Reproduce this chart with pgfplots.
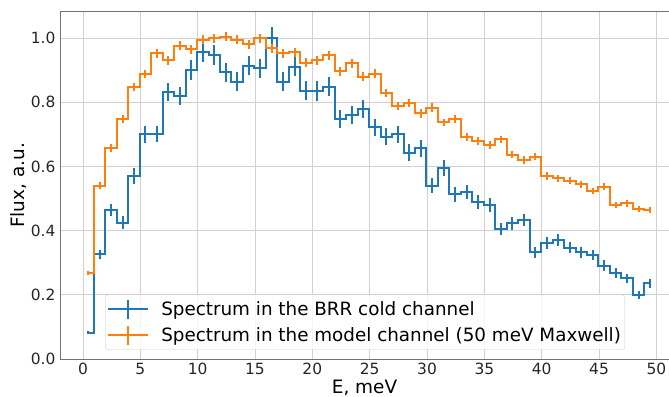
\documentclass[border=0pt]{standalone}
\usepackage{pgfplots}
\pgfplotsset{compat=1.18}
\usepackage{pgfplotstable}
\usepackage{fontspec}
\setmainfont{DejaVu Sans}
\definecolor{mblue}{HTML}{1F77B4}
\definecolor{morange}{HTML}{FF7F0E}
\pgfplotstableread{
x b be o oe
0.45 0.082 0.004 0.267 0.006
1.45 0.326 0.015 0.540 0.010
2.45 0.464 0.020 0.658 0.012
3.45 0.425 0.020 0.748 0.012
4.45 0.570 0.024 0.848 0.013
5.45 0.700 0.026 0.888 0.013
6.45 0.701 0.026 0.952 0.014
7.45 0.833 0.028 0.931 0.014
8.45 0.819 0.028 0.976 0.014
9.45 0.900 0.030 0.965 0.014
10.45 0.955 0.030 0.994 0.014
11.45 0.947 0.030 0.999 0.014
12.45 0.893 0.030 1.004 0.014
13.45 0.864 0.030 0.994 0.014
14.45 0.914 0.030 0.981 0.014
15.45 0.906 0.030 0.999 0.014
16.45 0.999 0.035 0.968 0.014
17.45 0.864 0.030 0.952 0.014
18.45 0.911 0.030 0.955 0.014
19.45 0.836 0.030 0.923 0.014
20.45 0.835 0.030 0.931 0.014
21.45 0.848 0.030 0.947 0.014
22.45 0.747 0.028 0.897 0.014
23.45 0.760 0.028 0.921 0.014
24.45 0.778 0.028 0.879 0.014
25.45 0.722 0.027 0.888 0.014
26.45 0.693 0.027 0.828 0.013
27.45 0.700 0.027 0.788 0.013
28.45 0.643 0.026 0.797 0.013
29.45 0.656 0.026 0.765 0.013
30.45 0.540 0.024 0.783 0.013
31.45 0.596 0.025 0.737 0.012
32.45 0.513 0.023 0.748 0.012
33.45 0.520 0.023 0.691 0.012
34.45 0.488 0.022 0.680 0.012
35.45 0.480 0.022 0.667 0.012
36.45 0.405 0.020 0.684 0.012
37.45 0.423 0.020 0.636 0.011
38.45 0.433 0.020 0.620 0.011
39.45 0.332 0.018 0.630 0.011
40.45 0.362 0.018 0.570 0.011
41.45 0.371 0.018 0.563 0.011
42.45 0.347 0.018 0.555 0.011
43.45 0.332 0.018 0.544 0.010
44.45 0.324 0.017 0.523 0.010
45.45 0.291 0.016 0.537 0.010
46.45 0.267 0.015 0.480 0.010
47.45 0.251 0.015 0.485 0.010
48.45 0.199 0.013 0.467 0.010
49.45 0.236 0.014 0.464 0.010
}\data
\begin{document}
\begin{tikzpicture}
\begin{axis}[
  scale only axis,
  width=609bp, height=347bp,
  xmin=-2, xmax=51.1,
  ymin=0, ymax=1.081,
  xtick={0,5,...,50},
  ytick={0,0.2,0.4,0.6,0.8,1.0},
  /pgf/number format/assume math mode=true,
  yticklabel style={/pgf/number format/fixed, /pgf/number format/fixed zerofill, /pgf/number format/precision=1},
  tick label style={font=\fontsize{15.5}{18}\selectfont, text=black!85},
  major tick length=0pt,
  xticklabel style={yshift=-1bp},
  yticklabel style={xshift=-1bp},
  grid=major,
  major grid style={draw=black!18, line width=0.8bp},
  axis line style={draw=none},
  xlabel={E, meV},
  ylabel={Flux, a.u.},
  label style={font=\fontsize{18.5}{21}\selectfont},
  xlabel style={yshift=2bp},
  ylabel style={yshift=-3bp},
  every axis plot/.append style={line width=2bp},
  legend cell align=left,
  legend style={at={(0.074,0.026)}, anchor=south west,
    font=\fontsize{18.4}{22}\selectfont,
    draw=black!20, rounded corners=3bp, fill=white, fill opacity=0.8, text opacity=1,
    row sep=5bp, inner xsep=2bp, inner ysep=4bp},
  legend image code/.code={
    \draw[#1] (0bp,0bp) -- (40bp,0bp);
    \draw[#1] (20bp,-9.5bp) -- (20bp,9.5bp);
    \path (50bp,0bp);
  },
]
\addplot[color=mblue, const plot mark mid,
  error bars/y dir=both, error bars/y explicit, error bars/error mark=none,
  error bars/error bar style={line width=2bp, mblue}]
  table[x=x, y=b, y error=be] {\data};
\addlegendentry{Spectrum in the BRR cold channel}
\addplot[color=morange, const plot mark mid,
  error bars/y dir=both, error bars/y explicit, error bars/error mark=none,
  error bars/error bar style={line width=2bp, morange}]
  table[x=x, y=o, y error=oe] {\data};
\addlegendentry{Spectrum in the model channel (50 meV Maxwell)}
\draw[black!55, line width=1bp] (rel axis cs:1.01,1) -- (rel axis cs:0,1) -- (rel axis cs:0,0) -- (rel axis cs:1.01,0);
\coordinate (bl) at (rel axis cs:0,0);
\coordinate (tr) at (rel axis cs:1,1);
\end{axis}
\pgfresetboundingbox
\path[use as bounding box] ([xshift=-60bp,yshift=-38bp]bl) rectangle ([yshift=12bp]tr);
\end{tikzpicture}
\end{document}
